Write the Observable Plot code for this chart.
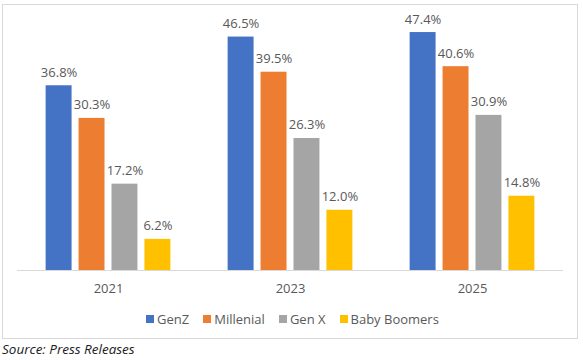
<!DOCTYPE html>
<html><head><meta charset="utf-8">
<script src="https://cdn.jsdelivr.net/npm/d3@7"></script>
<script src="https://cdn.jsdelivr.net/npm/@observablehq/plot@0.6"></script>
<style>
body{margin:0;background:#fff;font-family:"Open Sans",sans-serif;}
#wrap{position:relative;width:583px;height:360px;overflow:hidden;}
#box{position:absolute;left:2px;top:4px;width:576px;height:335px;box-sizing:border-box;border:1px solid #d9d9d9;}
#chart{position:absolute;left:0;top:0;}
#legend{position:absolute;left:1px;width:583px;top:310px;display:flex;justify-content:center;align-items:center;font-size:13px;line-height:18px;color:#595959;}
.item{display:flex;align-items:center;margin:0 7px;}
.sw{width:8px;height:8px;margin-right:3px;}
#source{position:absolute;left:2px;top:341px;font-size:13.5px;line-height:16px;font-style:italic;color:#1a1a1a;}
</style>
</head><body>
<div id="wrap">
  <div id="box"></div>
  <div id="chart"></div>
  <div id="legend"></div>
  <div id="source">Source: Press Releases</div>
</div>
<script>
const years = ["2021", "2023", "2025"];
const generations = ["GenZ", "Millenial", "Gen X", "Baby Boomers"];
const colors = ["#4472C4", "#ED7D31", "#A5A5A5", "#FFC000"];
const genZ = [36.8, 46.5, 47.4];
const millenial = [30.3, 39.5, 40.6];
const genX = [17.2, 26.3, 30.9];
const babyBoomers = [6.2, 12.0, 14.8];

const series = [genZ, millenial, genX, babyBoomers];
const data = [];
years.forEach((yr, i) => {
  generations.forEach((g, j) => data.push({year: yr, gen: g, value: series[j][i]}));
});

const chart = Plot.plot({
  width: 583, height: 305,
  marginTop: 19, marginBottom: 35, marginLeft: 16, marginRight: 20,
  style: {fontFamily: "Open Sans", fontSize: "13px", color: "#595959", background: "transparent", overflow: "visible"},
  fx: {domain: years, padding: 0, axis: "bottom", tickSize: 0, tickPadding: 13, label: null},
  x: {domain: generations, paddingInner: 0.212, paddingOuter: 0.869, axis: null, round: false},
  y: {domain: [0, 50], axis: null},
  color: {domain: generations, range: colors},
  marks: [
    Plot.ruleY([0], {stroke: "#d9d9d9"}),
    Plot.barY(data, {fx: "year", x: "gen", y: "value", fill: "gen"}),
    Plot.text(data, {fx: "year", x: "gen", y: "value", text: d => d.value.toFixed(1) + "%", lineAnchor: "bottom", dy: -9, fill: "#595959", fontSize: 13})
  ]
});
document.getElementById("chart").appendChild(chart);

const legend = document.getElementById("legend");
generations.forEach((g, i) => {
  const item = document.createElement("div");
  item.className = "item";
  const sw = document.createElement("span");
  sw.className = "sw";
  sw.style.background = colors[i];
  const t = document.createElement("span");
  t.textContent = g;
  item.appendChild(sw); item.appendChild(t);
  legend.appendChild(item);
});
</script>
</body></html>
